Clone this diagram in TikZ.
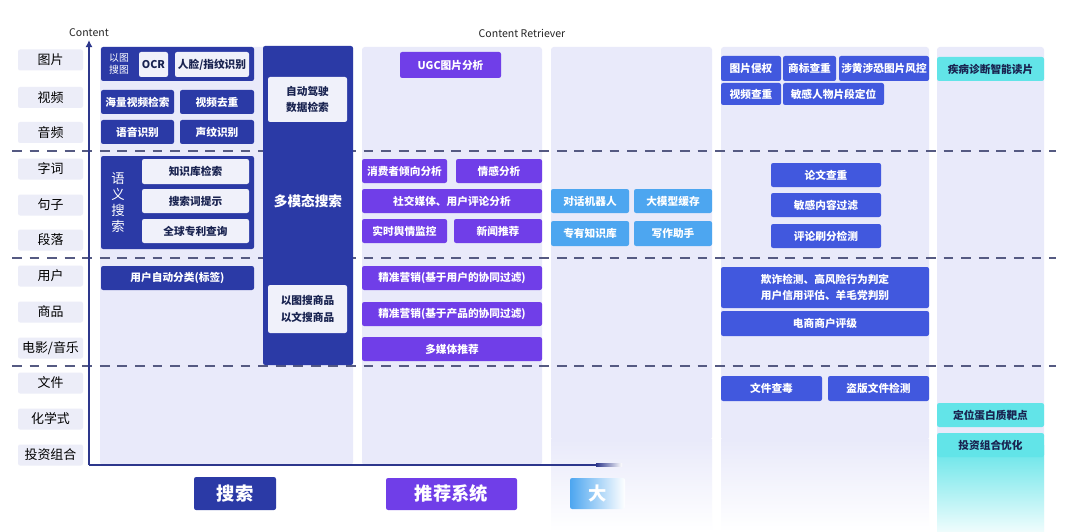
\documentclass[tikz,border=0pt]{standalone}
\usepackage{fontspec}
\setmainfont{Noto Sans CJK SC}
\usepackage{tikz}
\usepackage{xcolor}
\usetikzlibrary{arrows.meta}

\definecolor{srch}{RGB}{43,58,166}
\definecolor{recp}{RGB}{112,62,232}
\definecolor{llmb}{RGB}{77,166,240}
\definecolor{riskb}{RGB}{65,88,222}
\definecolor{medc}{RGB}{98,228,232}
\definecolor{colbg}{RGB}{233,234,250}
\definecolor{rowbg}{RGB}{236,237,248}
\definecolor{wbg}{RGB}{240,241,250}
\definecolor{axisc}{RGB}{45,55,140}
\definecolor{dashc}{RGB}{85,90,130}
\definecolor{dtext}{RGB}{25,35,80}

\begin{document}
\begin{tikzpicture}[x=0.025cm, y=-0.025cm,
    sz/.style 2 args={minimum width=#1*0.025cm, minimum height=#2*0.025cm},
    base/.style={rectangle, rounded corners=1.5pt, inner sep=0pt, align=center,
        font=\fontsize{7.6}{11.6}\selectfont\bfseries},
    rowlab/.style={base, fill=rowbg, text=black, font=\fontsize{9.2}{11}\selectfont, sz={65}{21}},
    sbox/.style={base, fill=srch, text=white},
    wbox/.style={base, fill=wbg, text=dtext},
    rbox/.style={base, fill=recp, text=white},
    lbox/.style={base, fill=llmb, text=white},
    kbox/.style={base, fill=riskb, text=white},
    mbox/.style={base, fill=medc, text=dtext},
    biglab/.style={base, text=white, font=\fontsize{13}{15}\selectfont\bfseries},
    sep/.style={dashc, line width=1pt, dash pattern=on 7pt off 5.5pt},
    axis/.style={axisc, line width=1.6pt}
]
        \useasboundingbox (0,0) rectangle (1080,532);
        \fill[white] (0,0) rectangle (1080,532);

        \fill[colbg, rounded corners=2pt] (100,47) rectangle (353,465);
        \fill[colbg, rounded corners=2pt] (362,47) rectangle (542,465);
        \fill[colbg, rounded corners=2pt] (551,47) rectangle (712,440);
        \fill[colbg, rounded corners=2pt] (721,47) rectangle (929,440);
        \fill[colbg, rounded corners=2pt] (937,47) rectangle (1044,440);
        \shade[top color=colbg, bottom color=white] (551,439) rectangle (712,532);
        \shade[top color=colbg, bottom color=white] (721,439) rectangle (929,532);
        \shade[top color=colbg, bottom color=white] (937,439) rectangle (1044,532);
        \shade[top color=medc, middle color=medc!85, bottom color=medc!10] (937,445) rectangle (1044,532);

        \draw[sep] (12,151) -- (1056,151)
            (12,258) -- (1056,258)
            (12,366) -- (1056,366);

        \node[rowlab] (r1) at (50.5,60) {图片};
        \node[rowlab] (r2) at (50.5,97.5) {视频};
        \node[rowlab] (r3) at (50.5,132.5) {音频};
        \node[rowlab] (r4) at (50.5,169) {字词};
        \node[rowlab] (r5) at (50.5,205) {句子};
        \node[rowlab] (r6) at (50.5,240) {段落};
        \node[rowlab] (r7) at (50.5,276) {用户};
        \node[rowlab] (r8) at (50.5,312) {商品};
        \node[rowlab] (r9) at (50.5,348) {电影/音乐};
        \node[rowlab] (r10) at (50.5,383) {文件};
        \node[rowlab] (r11) at (50.5,419) {化学式};
        \node[rowlab] (r12) at (50.5,455) {投资组合};

        \coordinate (o) at (89,465);
        \coordinate (ytop) at (89,40);
        \coordinate (xend) at (597,465);
        \draw[axis, -{Latex[length=5pt, width=5pt]}] (o) -- (ytop);
        \draw[axis] (o) -- (xend);
        \shade[left color=axisc, right color=white] (596,463.9) rectangle (622,466.1);
        \node[font=\fontsize{7.5}{9}\selectfont, text=black!85] (ylab) at (89,33) {Content};
        \node[font=\fontsize{7.5}{9}\selectfont, text=black!85] (crlab) at (522,33) {Content Retriever};

        \node[sbox, sz={153}{34}] (g1) at (177.5,64) {};
        \node[text=white, align=center, inner sep=0pt, font=\fontsize{7}{8.5}\selectfont] (ytst) at (119,64) {以图\\搜图};
        \node[wbox, sz={29}{25}] (ocr) at (153.5,64.5) {OCR};
        \node[wbox, sz={74}{25}] (rlzw) at (212,64.5) {人脸/指纹识别};
        \node[sbox, sz={73}{24}] (hlsp) at (137.5,102) {海量视频检索};
        \node[sbox, sz={74}{24}] (spqc) at (217,102) {视频去重};
        \node[sbox, sz={73}{24}] (yysb) at (137.5,132) {语音识别};
        \node[sbox, sz={74}{24}] (swsb) at (217,132) {声纹识别};
        \node[sbox, sz={153}{93}] (g2) at (177.5,202.5) {};
        \node[text=white, align=center, inner sep=0pt, font=\fontsize{9.5}{11.4}\selectfont] (yyss) at (118,203) {语\\义\\搜\\索};
        \node[wbox, sz={107}{25}] (zskjs) at (195.5,171.5) {知识库检索};
        \node[wbox, sz={107}{24}] (ssct) at (195.5,201) {搜索词提示};
        \node[wbox, sz={107}{24}] (qqzl) at (195.5,231) {全球专利查询};
        \node[sbox, sz={153}{24}] (yhfl) at (177.5,278) {用户自动分类(标签)};
        \node[sbox, sz={90}{319}] (dmt) at (308,205.5) {};
        \node[text=white, inner sep=0pt, font=\fontsize{9.7}{12}\selectfont\bfseries] (dmtlab) at (308,201) {多模态搜索};
        \node[wbox, sz={79}{45}] (zdjs) at (307.5,99.5) {自动驾驶\\数据检索};
        \node[wbox, sz={79}{48}] (ytss) at (307.5,309) {以图搜商品\\以文搜商品};

        \node[rbox, sz={101}{26}] (ugc) at (450.5,65) {UGC图片分析};
        \node[rbox, sz={85}{24}] (xfz) at (404.5,171) {消费者倾向分析};
        \node[rbox, sz={86}{24}] (qgfx) at (499,171) {情感分析};
        \node[rbox, sz={180}{24}] (sjmt) at (452,201) {社交媒体、用户评论分析};
        \node[rbox, sz={85}{24}] (ssyq) at (404.5,231) {实时舆情监控};
        \node[rbox, sz={88}{24}] (xwtj) at (498,231) {新闻推荐};
        \node[rbox, sz={180}{24}] (jzyx1) at (452,278) {精准营销(基于用户的协同过滤)};
        \node[rbox, sz={180}{24}] (jzyx2) at (452,314) {精准营销(基于产品的协同过滤)};
        \node[rbox, sz={180}{24}] (dmttj) at (452,349) {多媒体推荐};

        \node[lbox, sz={78}{24}] (dhjqr) at (590,201) {对话机器人};
        \node[lbox, sz={78}{24}] (dmxhc) at (673,201) {大模型缓存};
        \node[lbox, sz={78}{25}] (zyzsk) at (590,233.5) {专有知识库};
        \node[lbox, sz={78}{25}] (xzzs) at (673,233.5) {写作助手};

        \node[kbox, sz={60}{25}] (tpqq) at (751,68.5) {图片侵权};
        \node[kbox, sz={53}{25}] (sbcz) at (809.5,68.5) {商标查重};
        \node[kbox, sz={90}{25}] (shsk) at (884,68.5) {涉黄涉恐图片风控};
        \node[kbox, sz={60}{22}] (spcz) at (751,94) {视频查重};
        \node[kbox, sz={101}{22}] (mgrw) at (833.5,94) {敏感人物片段定位};
        \node[kbox, sz={110}{24}] (lwcz) at (826,175) {论文查重};
        \node[kbox, sz={110}{24}] (mgnr) at (826,205) {敏感内容过滤};
        \node[kbox, sz={110}{24}] (plsf) at (826,236) {评论刷分检测};
        \node[kbox, sz={208}{41}] (qzjc) at (825,287.5) {欺诈检测、高风险行为判定\\用户信用评估、羊毛党判别};
        \node[kbox, sz={208}{25}] (dsps) at (825,323.5) {电商商户评级};
        \node[kbox, sz={101}{25}] (wjcd) at (771.5,388.5) {文件查毒};
        \node[kbox, sz={101}{25}] (dbwj) at (878.5,388.5) {盗版文件检测};

        \node[mbox, sz={107}{24}] (jbzd) at (990.5,69) {疾病诊断智能读片};
        \node[mbox, sz={107}{24}] (dwdb) at (990.5,415) {定位蛋白质靶点};
        \node[mbox, sz={107}{24}] (tzzh) at (990.5,445) {投资组合优化};

        \node[biglab, fill=srch, sz={82}{33}] (labs) at (235,493.5) {搜索};
        \node[biglab, fill=recp, sz={131}{32}] (labr) at (451.5,494) {推荐系统};
        \node[biglab, left color=llmb, right color=white, sz={55}{31}] (labl) at (597.5,493.5) {大};
    \end{tikzpicture}
\end{document}
